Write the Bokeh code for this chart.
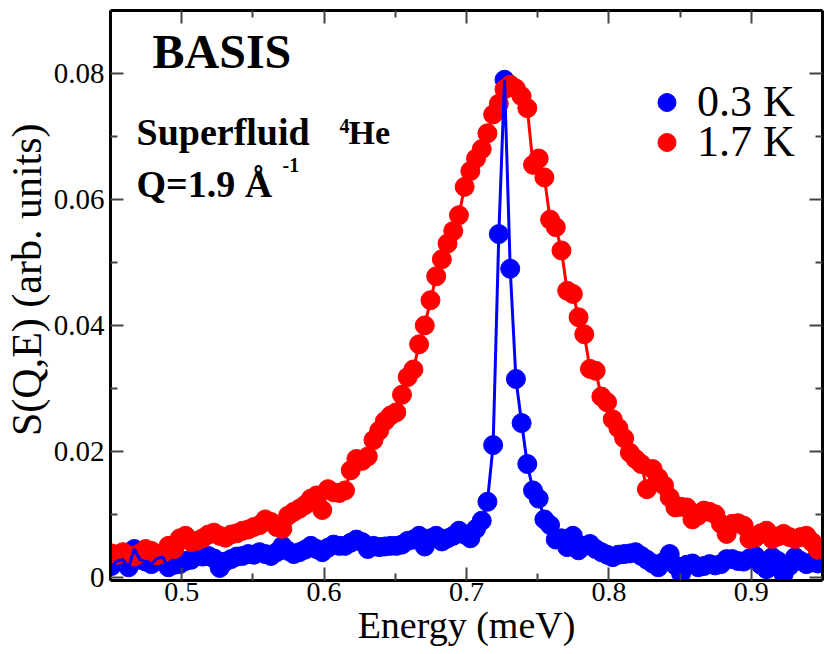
from bokeh.plotting import figure
from bokeh.models import Range1d, LinearAxis, Label, Legend, LegendItem, FixedTicker
from bokeh.embed import file_html
from bokeh.resources import INLINE

# Energy transfer grid (meV)
energy = [
    0.4507, 0.4547, 0.4587, 0.4627, 0.4667, 0.4707, 0.4747, 0.4787, 0.4827, 0.4867,
    0.4907, 0.4947, 0.4987, 0.5027, 0.5067, 0.5107, 0.5147, 0.5187, 0.5227, 0.5267,
    0.5307, 0.5347, 0.5387, 0.5427, 0.5467, 0.5507, 0.5547, 0.5587, 0.5627, 0.5667,
    0.5707, 0.5747, 0.5787, 0.5827, 0.5867, 0.5907, 0.5947, 0.5987, 0.6027, 0.6067,
    0.6107, 0.6147, 0.6187, 0.6227, 0.6267, 0.6307, 0.6347, 0.6387, 0.6427, 0.6467,
    0.6507, 0.6547, 0.6587, 0.6627, 0.6667, 0.6707, 0.6747, 0.6787, 0.6827, 0.6867,
    0.6907, 0.6947, 0.6987, 0.7027, 0.7067, 0.7107, 0.7147, 0.7187, 0.7227, 0.7267,
    0.7307, 0.7347, 0.7387, 0.7427, 0.7467, 0.7507, 0.7547, 0.7587, 0.7627, 0.7667,
    0.7707, 0.7747, 0.7787, 0.7827, 0.7867, 0.7907, 0.7947, 0.7987, 0.8027, 0.8067,
    0.8107, 0.8147, 0.8187, 0.8227, 0.8267, 0.8307, 0.8347, 0.8387, 0.8427, 0.8467,
    0.8507, 0.8547, 0.8587, 0.8627, 0.8667, 0.8707, 0.8747, 0.8787, 0.8827, 0.8867,
    0.8907, 0.8947, 0.8987, 0.9027, 0.9067, 0.9107, 0.9147, 0.9187, 0.9227, 0.9267,
    0.9307, 0.9347, 0.9387, 0.9427, 0.9467,
]

# S(Q,E) at 0.3 K (blue)
s_03K = [
    0.0018, 0.0026, 0.0028, 0.0016, 0.0045, 0.0028, 0.0025, 0.0021, 0.0030, 0.0032,
    0.0016, 0.0020, 0.0021, 0.0026, 0.0028, 0.0034, 0.0033, 0.0034, 0.0030, 0.0015,
    0.0025, 0.0029, 0.0033, 0.0034, 0.0037, 0.0036, 0.0040, 0.0037, 0.0034, 0.0040,
    0.0050, 0.0042, 0.0037, 0.0040, 0.0044, 0.0050, 0.0045, 0.0040, 0.0047, 0.0052,
    0.0050, 0.0050, 0.0055, 0.0060, 0.0056, 0.0045, 0.0050, 0.0048, 0.0049, 0.0050,
    0.0050, 0.0052, 0.0058, 0.0060, 0.0066, 0.0049, 0.0062, 0.0066, 0.0057, 0.0062,
    0.0066, 0.0074, 0.0068, 0.0062, 0.0077, 0.0090, 0.0120, 0.0210, 0.0545, 0.0790,
    0.0490, 0.0315, 0.0245, 0.0180, 0.0138, 0.0125, 0.0092, 0.0083, 0.0060, 0.0062,
    0.0048, 0.0066, 0.0043, 0.0050, 0.0053, 0.0045, 0.0040, 0.0036, 0.0032, 0.0036,
    0.0037, 0.0038, 0.0040, 0.0034, 0.0028, 0.0022, 0.0016, 0.0025, 0.0037, 0.0019,
    0.0006, 0.0020, 0.0022, 0.0016, 0.0018, 0.0021, 0.0019, 0.0021, 0.0029, 0.0029,
    0.0026, 0.0025, 0.0030, 0.0034, 0.0020, 0.0013, 0.0032, 0.0026, 0.0005, 0.0018,
    0.0032, 0.0026, 0.0021, 0.0024, 0.0022,
]

# S(Q,E) at 1.7 K (red)
s_17K = [
    0.0038, 0.0036, 0.0040, 0.0035, 0.0033, 0.0038, 0.0045, 0.0042, 0.0035, 0.0038,
    0.0050, 0.0045, 0.0062, 0.0066, 0.0056, 0.0058, 0.0062, 0.0068, 0.0071, 0.0066,
    0.0063, 0.0068, 0.0070, 0.0074, 0.0076, 0.0080, 0.0083, 0.0092, 0.0088, 0.0080,
    0.0077, 0.0098, 0.0104, 0.0109, 0.0115, 0.0125, 0.0130, 0.0107, 0.0140, 0.0135,
    0.0134, 0.0138, 0.0170, 0.0188, 0.0185, 0.0192, 0.0218, 0.0233, 0.0248, 0.0257,
    0.0262, 0.0290, 0.0318, 0.0330, 0.0370, 0.0400, 0.0440, 0.0478, 0.0505, 0.0530,
    0.0550, 0.0575, 0.0620, 0.0645, 0.0665, 0.0680, 0.0705, 0.0735, 0.0752, 0.0775,
    0.0782, 0.0776, 0.0764, 0.0745, 0.0655, 0.0665, 0.0635, 0.0568, 0.0556, 0.0519,
    0.0455, 0.0450, 0.0413, 0.0386, 0.0331, 0.0328, 0.0287, 0.0278, 0.0251, 0.0237,
    0.0221, 0.0198, 0.0188, 0.0180, 0.0140, 0.0172, 0.0158, 0.0146, 0.0127, 0.0111,
    0.0112, 0.0111, 0.0092, 0.0098, 0.0106, 0.0104, 0.0100, 0.0085, 0.0069, 0.0085,
    0.0086, 0.0082, 0.0061, 0.0063, 0.0070, 0.0074, 0.0061, 0.0065, 0.0069, 0.0064,
    0.0061, 0.0064, 0.0066, 0.0056, 0.0044,
]

series_labels = ["0.3 K", "1.7 K"]
x_major = [0.5, 0.6, 0.7, 0.8, 0.9]
x_minor = [0.45, 0.55, 0.65, 0.75, 0.85, 0.95]
y_major = [0.0, 0.02, 0.04, 0.06, 0.08]
y_minor = [0.01, 0.03, 0.05, 0.07]
y_tick_labels = {0: "0", 0.02: "0.02", 0.04: "0.04", 0.06: "0.06", 0.08: "0.08"}

FONT = "Liberation Serif"

p = figure(width=824, height=654, output_backend="svg", toolbar_location=None,
           x_range=Range1d(0.45, 0.95), y_range=Range1d(-0.0005, 0.09),
           x_axis_type=None, y_axis_type=None,
           min_border_left=110, min_border_right=2, min_border_top=10, min_border_bottom=74)
p.outline_line_color = None
p.background_fill_color = "white"
p.border_fill_color = "white"


def make_axis(major, minor, show_labels, overrides=None, standoff=7, size="29px"):
    ax = LinearAxis(ticker=FixedTicker(ticks=major, minor_ticks=minor))
    ax.axis_line_width = 3
    ax.axis_line_color = "black"
    ax.major_tick_in = 13
    ax.major_tick_out = 0
    ax.minor_tick_in = 7
    ax.minor_tick_out = 0
    ax.major_tick_line_color = "#444444"
    ax.major_tick_line_width = 2
    ax.minor_tick_line_color = "#444444"
    ax.minor_tick_line_width = 2
    ax.major_label_text_font = FONT
    ax.major_label_text_color = "black"
    ax.axis_label_text_font = FONT
    ax.axis_label_text_font_style = "normal"
    ax.axis_label_text_color = "black"
    if show_labels:
        ax.major_label_text_font_size = size
        ax.major_label_standoff = standoff
    else:
        ax.major_label_text_font_size = "0px"
        ax.major_label_standoff = 0
    if overrides:
        ax.major_label_overrides = overrides
    return ax


xb = make_axis(x_major, x_minor, True, standoff=2, size="28px")
xb.axis_label = "Energy (meV)"
xb.axis_label_text_font_size = "38px"
xb.axis_label_standoff = 0
p.add_layout(xb, "below")
p.add_layout(make_axis(x_major, x_minor, False), "above")
yl = make_axis(y_major, y_minor, True, y_tick_labels, standoff=6, size="29px")
# leading no-break spaces nudge the centred title upward, as in the reference
yl.axis_label = "\u00a0\u00a0\u00a0S(Q,E) (arb. units)"
yl.axis_label_text_font_size = "42px"
yl.axis_label_standoff = 1
p.add_layout(yl, "left")
p.add_layout(make_axis(y_major, y_minor, False), "right")

# draw order: blue symbols, red line, red symbols, blue line
r_blue = p.scatter(energy, s_03K, size=19, marker="circle", fill_color="#0000ff",
                   line_color="#0000ff")
p.line(energy, s_17K, line_width=3, line_color="#ff0000")
r_red = p.scatter(energy, s_17K, size=19, marker="circle", fill_color="#ff0000",
                  line_color="#ff0000")
p.line(energy, s_03K, line_width=3, line_color="#0000ff")


def make_legend(label, renderer, y):
    lg = Legend(items=[LegendItem(label=label, renderers=[renderer])],
                location=(534, y), orientation="vertical")
    lg.glyph_width = 45
    lg.glyph_height = 48
    lg.label_height = 48
    lg.label_standoff = 8
    lg.label_text_font = FONT
    lg.label_text_font_size = "44px"
    lg.label_text_color = "black"
    lg.padding = 0
    lg.margin = 0
    lg.spacing = 0
    lg.border_line_color = None
    lg.background_fill_alpha = 0
    lg.click_policy = "none"
    return lg


p.add_layout(make_legend(series_labels[0], r_blue, 453))
p.add_layout(make_legend(series_labels[1], r_red, 413))


def add_label(text, x, y, size, bold=True, align="left"):
    lab = Label(x=x, y=y, x_units="screen", y_units="screen", text=text,
                text_font=FONT, text_font_size=size,
                text_font_style="bold" if bold else "normal",
                text_align=align, text_baseline="alphabetic",
                text_color="black")
    p.add_layout(lab)


add_label("BASIS", 42, 529, "48px")
add_label("Superfluid", 26, 449, "38px")
add_label("4", 229, 455, "20px")
add_label("He", 238, 448, "34px")
add_label("Q=1.9 \u00c5", 26, 397, "38px")
add_label("-1", 172, 416, "20px")

open("out.html", "w").write(file_html(p, INLINE))
